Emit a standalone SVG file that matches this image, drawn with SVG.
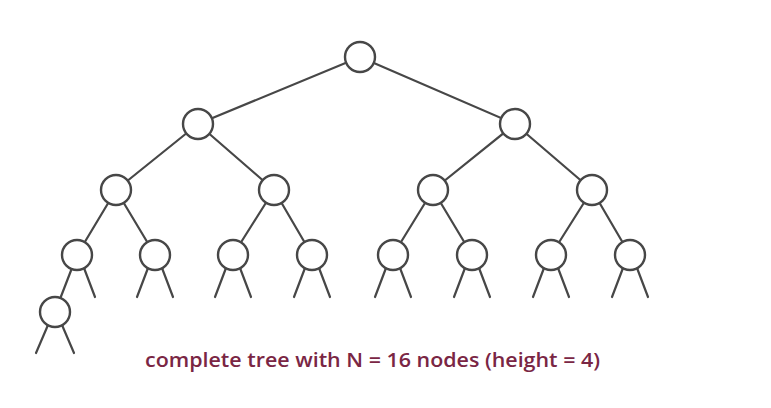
<svg xmlns="http://www.w3.org/2000/svg" width="771" height="408" viewBox="0 0 771 408">
<style>
.e{stroke:#474747;stroke-width:2.2;fill:none;stroke-linecap:round}
.n{fill:#fff;stroke:#474747;stroke-width:2.4}
.t{font-family:"Open Sans","Liberation Sans",sans-serif;font-size:19px;font-weight:600;fill:#7a2644}
</style>
<rect width="771" height="408" fill="#fff"/>
<g id="connectors">
<line class="e" x1="360" y1="57" x2="198" y2="124"/>
<line class="e" x1="360" y1="57" x2="515" y2="124"/>
<line class="e" x1="198" y1="124" x2="116" y2="190"/>
<line class="e" x1="198" y1="124" x2="274" y2="190"/>
<line class="e" x1="515" y1="124" x2="433" y2="190"/>
<line class="e" x1="515" y1="124" x2="592" y2="190"/>
<line class="e" x1="116" y1="190" x2="77" y2="255"/>
<line class="e" x1="116" y1="190" x2="155" y2="255"/>
<line class="e" x1="274" y1="190" x2="233" y2="255"/>
<line class="e" x1="274" y1="190" x2="312" y2="255"/>
<line class="e" x1="433" y1="190" x2="393" y2="255"/>
<line class="e" x1="433" y1="190" x2="472" y2="255"/>
<line class="e" x1="592" y1="190" x2="551" y2="255"/>
<line class="e" x1="592" y1="190" x2="630" y2="255"/>
<line class="e" x1="77" y1="255" x2="55" y2="312"/>
<line class="e" x1="84" y1="268" x2="95" y2="297"/>
<line class="e" x1="148" y1="268" x2="137" y2="297"/>
<line class="e" x1="162" y1="268" x2="173" y2="297"/>
<line class="e" x1="226" y1="268" x2="215" y2="297"/>
<line class="e" x1="240" y1="268" x2="251" y2="297"/>
<line class="e" x1="305" y1="268" x2="294" y2="297"/>
<line class="e" x1="319" y1="268" x2="330" y2="297"/>
<line class="e" x1="386" y1="268" x2="375" y2="297"/>
<line class="e" x1="400" y1="268" x2="411" y2="297"/>
<line class="e" x1="465" y1="268" x2="454" y2="297"/>
<line class="e" x1="479" y1="268" x2="490" y2="297"/>
<line class="e" x1="544" y1="268" x2="533" y2="297"/>
<line class="e" x1="558" y1="268" x2="569" y2="297"/>
<line class="e" x1="623" y1="268" x2="612" y2="297"/>
<line class="e" x1="637" y1="268" x2="648" y2="297"/>
<line class="e" x1="48" y1="325" x2="36" y2="353"/>
<line class="e" x1="62" y1="325" x2="74" y2="353"/>
</g>
<g id="n1"><circle class="n" cx="360" cy="57" r="15"/></g>
<g id="n2"><circle class="n" cx="198" cy="124" r="15"/></g>
<g id="n3"><circle class="n" cx="515" cy="124" r="15"/></g>
<g id="n4"><circle class="n" cx="116" cy="190" r="15"/></g>
<g id="n5"><circle class="n" cx="274" cy="190" r="15"/></g>
<g id="n6"><circle class="n" cx="433" cy="190" r="15"/></g>
<g id="n7"><circle class="n" cx="592" cy="190" r="15"/></g>
<g id="n8"><circle class="n" cx="77" cy="255" r="15"/></g>
<g id="n9"><circle class="n" cx="155" cy="255" r="15"/></g>
<g id="n10"><circle class="n" cx="233" cy="255" r="15"/></g>
<g id="n11"><circle class="n" cx="312" cy="255" r="15"/></g>
<g id="n12"><circle class="n" cx="393" cy="255" r="15"/></g>
<g id="n13"><circle class="n" cx="472" cy="255" r="15"/></g>
<g id="n14"><circle class="n" cx="551" cy="255" r="15"/></g>
<g id="n15"><circle class="n" cx="630" cy="255" r="15"/></g>
<g id="n16"><circle class="n" cx="55" cy="312" r="15"/></g>
<g id="caption"><text class="t" x="145" y="367" textLength="455" lengthAdjust="spacingAndGlyphs">complete tree with N = 16 nodes (height = 4)</text></g>
</svg>
